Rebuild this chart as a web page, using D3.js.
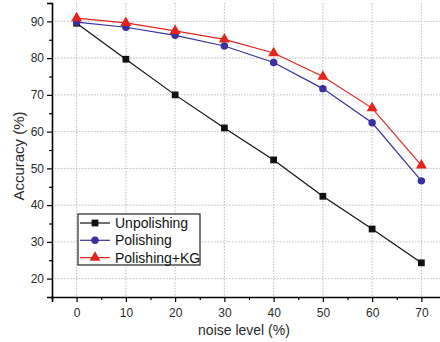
<!DOCTYPE html>
<html>
<head>
<meta charset="utf-8">
<script src="https://cdn.jsdelivr.net/npm/d3@7"></script>
<style>
  html, body { margin: 0; padding: 0; background: #fff; }
  svg { display: block; font-family: "Liberation Sans", Arial, sans-serif; }
</style>
</head>
<body>
<svg id="chart" width="440" height="342"></svg>
<script>
// Noise levels (%) on the x axis
const noiseLevels = [0, 10, 20, 30, 40, 50, 60, 70];

// Accuracy (%) for each method
const unpolishing = [89.5, 79.7, 70.0, 61.0, 52.3, 42.4, 33.5, 24.3];
const polishing   = [89.8, 88.4, 86.2, 83.3, 78.8, 71.7, 62.4, 46.6];
const polishingKG = [90.9, 89.6, 87.4, 85.1, 81.4, 75.0, 66.4, 50.8];

const seriesNames = ["Unpolishing", "Polishing", "Polishing+KG"];
const xTicks = [0, 10, 20, 30, 40, 50, 60, 70];
const yTicks = [20, 30, 40, 50, 60, 70, 80, 90];

const colors = ["#111111", "#3a30a0", "#e3231c"];
const symbols = [d3.symbolSquare, d3.symbolCircle, d3.symbolTriangle];
const symbolSizes = [46, 44, 52];

const series = [unpolishing, polishing, polishingKG].map((vals, i) => ({
  name: seriesNames[i],
  color: colors[i],
  symbol: symbols[i],
  size: symbolSizes[i],
  points: noiseLevels.map((x, j) => ({ x, y: vals[j] }))
}));

const svg = d3.select("#chart");
const plotLeft = 52, plotTop = 3, plotBottom = 297, plotRight = 446;

const x = d3.scaleLinear().domain([-5, 75]).range([plotLeft, plotRight]);
const y = d3.scaleLinear().domain([15, 95]).range([plotBottom, plotTop]);

// Dotted grid at the major ticks
const grid = svg.append("g").attr("stroke", "#bdbdbd").attr("stroke-width", 1)
  .attr("stroke-dasharray", "1.5,1.5");
grid.selectAll("line.v").data(xTicks).join("line").attr("class", "v")
  .attr("x1", d => x(d)).attr("x2", d => x(d))
  .attr("y1", plotTop).attr("y2", plotBottom);
grid.selectAll("line.h").data(yTicks).join("line").attr("class", "h")
  .attr("x1", plotLeft).attr("x2", plotRight)
  .attr("y1", d => y(d)).attr("y2", d => y(d));

// Minor ticks every 5 units
const xMinor = d3.range(-5, 76, 5).filter(v => v % 10 !== 0);
const yMinor = d3.range(15, 96, 5).filter(v => v % 10 !== 0);

svg.append("g").attr("transform", `translate(0,${plotBottom})`)
  .call(d3.axisBottom(x).tickValues(xTicks).tickSize(5).tickPadding(6).tickFormat(d3.format("d")));
svg.append("g").attr("transform", `translate(0,${plotBottom})`)
  .call(d3.axisBottom(x).tickValues(xMinor).tickSize(3).tickFormat(""))
  .call(g => g.select(".domain").remove());

svg.append("g").attr("transform", `translate(${plotLeft},0)`)
  .call(d3.axisLeft(y).tickValues(yTicks).tickSize(5).tickPadding(3).tickFormat(d3.format("d")));
svg.append("g").attr("transform", `translate(${plotLeft},0)`)
  .call(d3.axisLeft(y).tickValues(yMinor).tickSize(3).tickFormat(""))
  .call(g => g.select(".domain").remove());

svg.selectAll(".domain").attr("stroke", "#000").attr("stroke-width", 1.6);
svg.selectAll(".tick line").attr("stroke", "#000").attr("stroke-width", 1.2);
svg.selectAll(".tick text").attr("font-size", 12).attr("fill", "#2a2a2a")
  .attr("font-family", "Liberation Sans, Arial, sans-serif");

// Axis titles
svg.append("text")
  .attr("x", 244).attr("y", 335)
  .attr("text-anchor", "middle").attr("font-size", 14).attr("fill", "#2a2a2a")
  .text("noise level (%)");
svg.append("text")
  .attr("transform", "translate(24,156) rotate(-90)")
  .attr("text-anchor", "middle").attr("font-size", 15).attr("fill", "#2a2a2a")
  .text("Accuracy (%)");

// Lines and markers
const line = d3.line().x(d => x(d.x)).y(d => y(d.y));
series.forEach(s => {
  svg.append("path").datum(s.points)
    .attr("fill", "none").attr("stroke", s.color).attr("stroke-width", 1.2)
    .attr("d", line);
});
series.forEach(s => {
  svg.append("g").selectAll("path").data(s.points).join("path")
    .attr("transform", d => `translate(${x(d.x)},${y(d.y)})`)
    .attr("d", d3.symbol().type(s.symbol).size(s.size))
    .attr("fill", s.color);
});

// Legend
const legend = svg.append("g").attr("transform", "translate(78,214)");
legend.append("rect").attr("width", 122).attr("height", 51)
  .attr("fill", "#fff").attr("stroke", "#222").attr("stroke-width", 1.2);
series.forEach((s, i) => {
  const row = legend.append("g").attr("transform", `translate(0,${9 + i * 17.3})`);
  row.append("line").attr("x1", 2).attr("x2", 32).attr("stroke", s.color).attr("stroke-width", 1.2);
  row.append("path").attr("transform", "translate(17,0)")
    .attr("d", d3.symbol().type(s.symbol).size(s.size)).attr("fill", s.color);
  row.append("text").attr("x", 37).attr("y", 5).attr("font-size", 14).attr("fill", "#111")
    .text(s.name);
});
</script>
</body>
</html>
